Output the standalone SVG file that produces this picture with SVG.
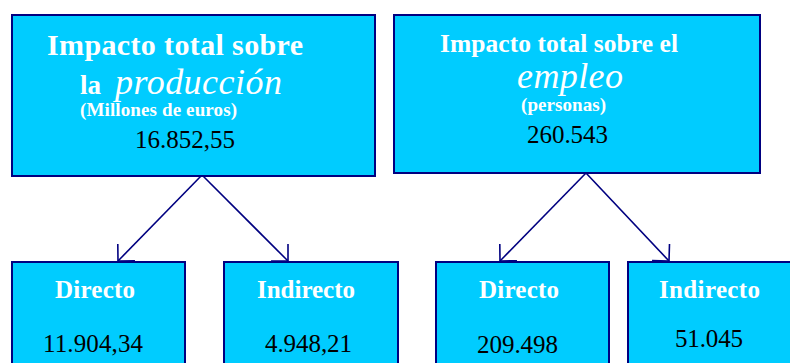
<svg xmlns="http://www.w3.org/2000/svg" width="790" height="363" viewBox="0 0 790 363">
<style>
.box{fill:#00CCFF;stroke:#000080;stroke-width:2}
.w{fill:#FFFFFF;font-weight:bold}
.it{fill:#FFFFFF;font-style:italic}
.n{fill:#000000;font-size:25px}
.c{fill:none;stroke:#000080;stroke-width:1.6}
</style>
<defs>
<marker id="ah" markerUnits="userSpaceOnUse" markerWidth="30" markerHeight="30" refX="0" refY="0" viewBox="-15 -15 30 30" orient="auto" overflow="visible">
<path d="M-12,-12 L0,0 L-12,12" fill="none" stroke="#000080" stroke-width="1.6"/>
</marker>
</defs>
<rect width="790" height="363" fill="#FFFFFF"/>
<g id="connectors">
<line class="c" x1="202" y1="175" x2="118" y2="261" marker-end="url(#ah)"/>
<line class="c" x1="202" y1="175" x2="288" y2="261" marker-end="url(#ah)"/>
<line class="c" x1="586" y1="173" x2="500" y2="261" marker-end="url(#ah)"/>
<line class="c" x1="586" y1="173" x2="669" y2="261" marker-end="url(#ah)"/>
</g>
<g font-family="'Liberation Serif', 'Times New Roman', serif">
<g id="node-produccion">
<rect class="box" x="12" y="15" width="363" height="161"/>
<text class="w" x="47" y="55" font-size="30" textLength="256" lengthAdjust="spacing">Impacto total sobre</text>
<text class="w" x="80" y="94" font-size="27">la</text>
<text class="it" x="115" y="94" font-size="36" textLength="167" lengthAdjust="spacing">producción</text>
<text class="w" x="80" y="116" font-size="19" textLength="157" lengthAdjust="spacing">(Millones de euros)</text>
<text class="n" x="135" y="148" textLength="100" lengthAdjust="spacing">16.852,55</text>
</g>
<g id="node-empleo">
<rect class="box" x="394" y="15" width="366" height="158"/>
<text class="w" x="440" y="52" font-size="25.5" textLength="238" lengthAdjust="spacing">Impacto total sobre el</text>
<text class="it" x="517" y="88" font-size="36" textLength="106" lengthAdjust="spacing">empleo</text>
<text class="w" x="521" y="111" font-size="19" textLength="85" lengthAdjust="spacing">(personas)</text>
<text class="n" x="527" y="143" textLength="81" lengthAdjust="spacing">260.543</text>
</g>
<g id="node-prod-directo">
<rect class="box" x="12" y="262" width="173" height="110"/>
<text class="w" x="55" y="298" font-size="25" textLength="80" lengthAdjust="spacing">Directo</text>
<text class="n" x="43" y="352" textLength="100" lengthAdjust="spacing">11.904,34</text>
</g>
<g id="node-prod-indirecto">
<rect class="box" x="224" y="262" width="174" height="110"/>
<text class="w" x="257" y="298" font-size="25" textLength="98" lengthAdjust="spacing">Indirecto</text>
<text class="n" x="265" y="352" textLength="87" lengthAdjust="spacing">4.948,21</text>
</g>
<g id="node-emp-directo">
<rect class="box" x="436" y="262" width="173" height="110"/>
<text class="w" x="479" y="298" font-size="25" textLength="80" lengthAdjust="spacing">Directo</text>
<text class="n" x="477" y="353" textLength="81" lengthAdjust="spacing">209.498</text>
</g>
<g id="node-emp-indirecto">
<rect class="box" x="628" y="262" width="172" height="110"/>
<text class="w" x="659" y="298" font-size="25" textLength="101" lengthAdjust="spacing">Indirecto</text>
<text class="n" x="675" y="347" textLength="68" lengthAdjust="spacing">51.045</text>
</g>
</g>
</svg>
